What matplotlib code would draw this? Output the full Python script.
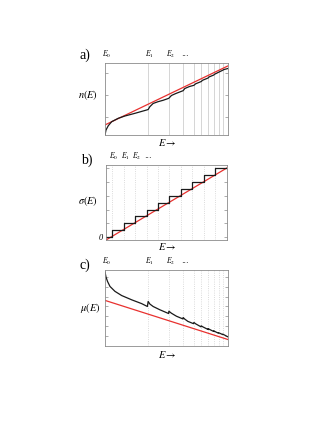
import matplotlib.pyplot as plt

plt.rcParams['font.family'] = ['Liberation Serif', 'DejaVu Serif']
plt.rcParams['mathtext.fontset'] = 'stix'

# ---- data ----
# level positions shared by panels a) and c)
E_levels = [0, 1.00, 1.48, 1.81, 2.06, 2.23, 2.39, 2.52, 2.63, 2.73]
E_max = 2.85

# a) n(E): black curve and red straight line
n_x = [0, 0.023, 0.076, 0.155, 0.307, 0.462, 0.693, 0.963, 1.0, 1.039, 1.115,
       1.231, 1.346, 1.466, 1.48, 1.54, 1.64, 1.79, 1.81, 1.85, 1.96, 2.06,
       2.10, 2.23, 2.26, 2.39, 2.41, 2.52, 2.54, 2.63, 2.66, 2.73, 2.75, 2.85]
n_y = [0, 0.69, 1.29, 1.85, 2.32, 2.64, 3.01, 3.47, 3.54, 3.93, 4.38,
       4.63, 4.82, 5.07, 5.11, 5.49, 5.76, 6.11, 6.15, 6.46, 6.74, 6.90,
       7.11, 7.43, 7.60, 7.92, 8.06, 8.33, 8.44, 8.71, 8.80, 9.00, 9.08, 9.24]
n_red_x = [0, 2.85]
n_red_y = [1.4, 9.6]

# b) sigma(E): staircase and red line
E_steps = [0.5, 1.55, 2.55, 3.55, 4.55, 5.5, 6.5, 7.5, 8.5, 9.5]
step_levels = [0, 1, 2, 3, 4, 5, 6, 7, 8, 9, 10, 10]
b_max = 10.5
s_red_x = [0, 10.5]
s_red_y = [-0.44, 10.06]

# c) mu(E): black curve with spikes, red line
mu_x = [0, 0.023, 0.058, 0.115, 0.231, 0.386, 0.617, 0.848, 0.982, 1.0, 1.04,
        1.115, 1.27, 1.475, 1.48, 1.54, 1.655, 1.805, 1.81, 1.85, 1.92, 2.05,
        2.06, 2.10, 2.225, 2.23, 2.27, 2.385, 2.39, 2.43, 2.515, 2.52, 2.56,
        2.625, 2.63, 2.68, 2.725, 2.73, 2.85]
mu_y = [9.74, 9.08, 8.5, 7.84, 7.19, 6.64, 6.08, 5.58, 5.2, 5.86, 5.52,
        5.2, 4.77, 4.27, 4.58, 4.31, 3.92, 3.56, 3.75, 3.53, 3.24, 2.94,
        3.1, 2.92, 2.52, 2.65, 2.51, 2.18, 2.29, 2.16, 1.92, 2.0, 1.87,
        1.69, 1.75, 1.63, 1.5, 1.56, 1.2]
mu_red_x = [0, 2.85]
mu_red_y = [6.0, 0.85]

RED = '#e8312f'
GRID = '#cfcfcf'
SPINE = '#8a8a8a'

W, H = 332, 430
fig = plt.figure(figsize=(W / 100, H / 100), dpi=100)


def px_axes(l, t, r, b):
    return fig.add_axes([l / W, 1 - b / H, (r - l) / W, (b - t) / H])


def style(ax, yticks):
    for s in ax.spines.values():
        s.set_color(SPINE)
        s.set_linewidth(0.6)
    ax.set_xticks([])
    ax.set_yticks(yticks)
    ax.tick_params(axis='y', direction='in', length=2, width=0.5, color=SPINE,
                   left=True, right=True, labelleft=False, labelsize=6, pad=2)


def top_labels(ax, xs):
    names = [r'$E_0$', r'$E_1$', r'$E_2$', '···']
    for x, s in zip(xs, names):
        ax.annotate(s, xy=(x, 1), xycoords=('data', 'axes fraction'),
                    xytext=(1, 2), textcoords='offset points',
                    ha='center', va='bottom', fontsize=5.5)


# ---- a) ----
ax1 = px_axes(105, 63, 228, 135)
for e in E_levels[1:]:
    ax1.axvline(e, color=GRID, lw=0.6, zorder=0)
ax1.plot(n_red_x, n_red_y, color=RED, lw=0.9)
ax1.plot(n_x, n_y, color='#1a1a1a', lw=0.9)
ax1.set_xlim(0, E_max)
ax1.set_ylim(0, 10)
style(ax1, [2.5, 5.5, 8.6])
top_labels(ax1, E_levels[:4])

# ---- b) ----
ax2 = px_axes(106, 165, 227, 240)
for e in E_steps:
    ax2.axvline(e, color=GRID, lw=0.6, ls=':', zorder=0)
ax2.plot(s_red_x, s_red_y, color=RED, lw=0.9)
ax2.step([0] + E_steps + [b_max - 0.1], step_levels, where='post',
         color='#1a1a1a', lw=0.9)
ax2.set_xlim(0, b_max)
ax2.set_ylim(-0.44, 10.48)
style(ax2, [0, 2, 4, 6, 8, 10])
ax2.set_yticklabels(['0', '', '', '', '', ''])
ax2.tick_params(axis='y', labelleft=True)
for lab in ax2.get_yticklabels():
    lab.set_fontstyle('italic')
top_labels(ax2, E_steps[:4])

# ---- c) ----
ax3 = px_axes(105, 270, 228, 346)
for e in E_levels[1:]:
    ax3.axvline(e, color=GRID, lw=0.6, ls=':', zorder=0)
ax3.plot(mu_red_x, mu_red_y, color=RED, lw=0.9)
ax3.plot(mu_x, mu_y, color='#1a1a1a', lw=0.9)
ax3.set_xlim(0, E_max)
ax3.set_ylim(0, 10)
style(ax3, [1.3, 2.6, 3.9, 5.2, 6.5, 7.8, 9.1])
top_labels(ax3, E_levels[:4])

# ---- labels ----
def ftext(x, y, s, **kw):
    fig.text(x / W, 1 - y / H, s, ha='center', va='center', **kw)


ftext(85, 55, 'a)', fontsize=10)
ftext(87, 160, 'b)', fontsize=10)
ftext(85, 265, 'c)', fontsize=10)
ftext(88, 95, r'$n(E)$', fontsize=7.5)
ftext(88, 201, r'$\sigma(E)$', fontsize=7.5)
ftext(90, 308, r'$\mu(E)$', fontsize=7.5)
for y in (143, 247, 354):
    ftext(167, y, r'$E \rightarrow$', fontsize=7.5)

fig.savefig('out.png', dpi=100)
